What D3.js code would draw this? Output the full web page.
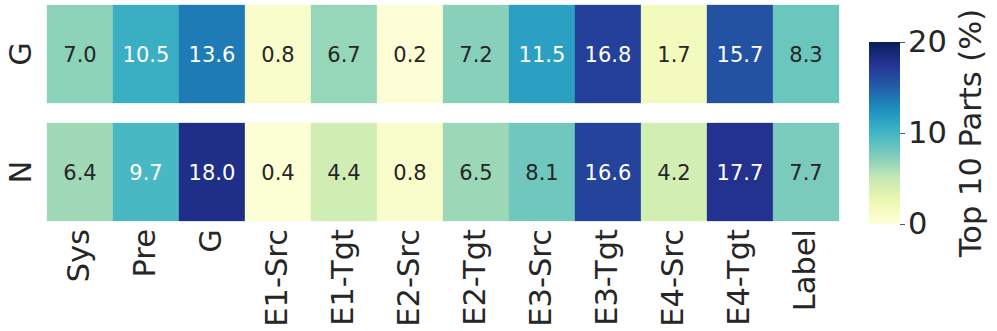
<!DOCTYPE html>
<html>
<head>
<meta charset="utf-8">
<script src="https://cdn.jsdelivr.net/npm/d3@7"></script>
<style>
  html, body { margin: 0; padding: 0; background: #fff; }
  svg { display: block; font-family: "DejaVu Sans", sans-serif; }
</style>
</head>
<body>
<div id="chart"></div>
<script>
// values
const columns = ['Sys', 'Pre', 'G', 'E1-Src', 'E1-Tgt', 'E2-Src', 'E2-Tgt', 'E3-Src', 'E3-Tgt', 'E4-Src', 'E4-Tgt', 'Label'];
const rowNames = ['G', 'N'];
const valuesG = [7.0, 10.5, 13.6, 0.8, 6.7, 0.2, 7.2, 11.5, 16.8, 1.7, 15.7, 8.3];
const valuesN = [6.4, 9.7, 18.0, 0.4, 4.4, 0.8, 6.5, 8.1, 16.6, 4.2, 17.7, 7.7];
const colorTicks = [0, 10, 20];
const colorLabel = 'Top 10 Parts (%)';

// YlGnBu, same stops as matplotlib
const ylgnbu = ['#ffffd9', '#edf8b1', '#c7e9b4', '#7fcdbb', '#41b6c4', '#1d91c0', '#225ea8', '#253494', '#081d58'];

const width = 997, height = 331;
const textColor = '#262626';
const labelSize = 30.5;

const svg = d3.select('#chart').append('svg')
  .attr('width', width)
  .attr('height', height);

const x = d3.scaleBand().domain(columns).range([47, 839]).padding(0);
const y = d3.scaleBand().domain(rowNames).range([5, 221]).paddingInner(20 / 118).paddingOuter(0);

const vmin = 0, vmax = 20;
const color = d3.scaleLinear()
  .domain(ylgnbu.map((c, i) => vmin + (vmax - vmin) * i / (ylgnbu.length - 1)))
  .range(ylgnbu)
  .interpolate(d3.interpolateRgb)
  .clamp(true);

// seaborn picks the annotation colour from the cell luminance
function luminance(c) {
  const rgb = d3.rgb(c);
  const lin = v => {
    v /= 255;
    return v <= 0.03928 ? v / 12.92 : Math.pow((v + 0.055) / 1.055, 2.4);
  };
  return 0.2126 * lin(rgb.r) + 0.7152 * lin(rgb.g) + 0.0722 * lin(rgb.b);
}

const cells = [];
[valuesG, valuesN].forEach((vals, r) => {
  vals.forEach((v, i) => cells.push({ row: rowNames[r], col: columns[i], value: v }));
});

const cell = svg.append('g').selectAll('g.cell')
  .data(cells)
  .enter().append('g')
  .attr('class', 'cell');

cell.append('rect')
  .attr('x', d => x(d.col))
  .attr('y', d => y(d.row))
  .attr('width', x.bandwidth())
  .attr('height', y.bandwidth())
  .attr('fill', d => color(d.value))
  .attr('stroke', d => color(d.value))
  .attr('stroke-width', 0.3);

cell.append('text')
  .attr('x', d => x(d.col) + x.bandwidth() / 2)
  .attr('y', d => y(d.row) + y.bandwidth() / 2)
  .attr('dy', '0.36em')
  .attr('text-anchor', 'middle')
  .style('font-size', '21px')
  .style('fill', d => luminance(color(d.value)) > 0.408 ? textColor : '#ffffff')
  .text(d => d.value.toFixed(1));

// row labels (rotated)
svg.append('g').selectAll('text')
  .data(rowNames)
  .enter().append('text')
  .attr('transform', d => `translate(31,${y(d) + y.bandwidth() / 2}) rotate(-90)`)
  .attr('text-anchor', 'middle')
  .style('font-size', labelSize + 'px')
  .style('fill', textColor)
  .text(d => d);

// column labels (rotated)
svg.append('g').selectAll('text')
  .data(columns)
  .enter().append('text')
  .attr('transform', d => `translate(${x(d) + x.bandwidth() / 2},229) rotate(-90)`)
  .attr('text-anchor', 'end')
  .attr('dy', '0.3em')
  .style('font-size', labelSize + 'px')
  .style('fill', textColor)
  .text(d => d);

// colorbar
const cbX = 869, cbW = 31;
const cbScale = d3.scaleLinear().domain([vmin, vmax]).range([224, 42]);

const grad = svg.append('defs').append('linearGradient')
  .attr('id', 'cbgrad')
  .attr('x1', 0).attr('y1', 1)
  .attr('x2', 0).attr('y2', 0);

grad.selectAll('stop')
  .data(ylgnbu)
  .enter().append('stop')
  .attr('offset', (d, i) => i / (ylgnbu.length - 1))
  .attr('stop-color', d => d);

svg.append('rect')
  .attr('x', cbX)
  .attr('y', cbScale(vmax))
  .attr('width', cbW)
  .attr('height', cbScale(vmin) - cbScale(vmax))
  .attr('fill', 'url(#cbgrad)');

const cbAxis = svg.append('g')
  .attr('transform', `translate(${cbX + cbW},0)`)
  .call(d3.axisRight(cbScale).tickValues(colorTicks).tickSize(5).tickPadding(3).tickFormat(d3.format('d')));

cbAxis.select('.domain').remove();
cbAxis.selectAll('.tick line').attr('stroke', '#555').attr('stroke-width', 1);
cbAxis.selectAll('.tick text')
  .attr('fill', textColor)
  .style('font-size', labelSize + 'px')
  .style('font-family', '"DejaVu Sans", sans-serif');

svg.append('text')
  .attr('transform', `translate(981,${(cbScale(vmin) + cbScale(vmax)) / 2}) rotate(-90)`)
  .attr('text-anchor', 'middle')
  .style('font-size', labelSize + 'px')
  .style('fill', textColor)
  .text(colorLabel);
</script>
</body>
</html>
